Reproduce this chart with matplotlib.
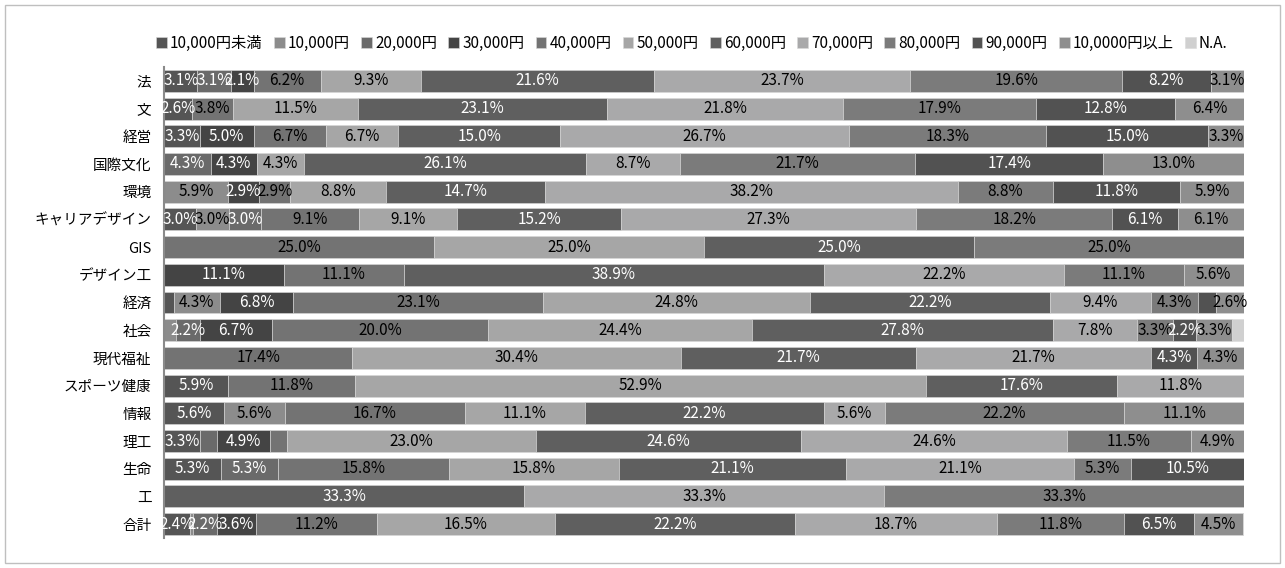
import matplotlib
matplotlib.use('Agg')
import matplotlib.pyplot as plt
import numpy as np

plt.rcParams['font.family'] = ['Noto Sans CJK JP', 'DejaVu Sans']

# 学部 (rows, top to bottom)
categories = ['法', '文', '経営', '国際文化', '環境', 'キャリアデザイン', 'GIS', 'デザイン工',
              '経済', '社会', '現代福祉', 'スポーツ健康', '情報', '理工', '生命', '工', '合計']

series_names = ['10,000円未満', '10,000円', '20,000円', '30,000円', '40,000円', '50,000円',
                '60,000円', '70,000円', '80,000円', '90,000円', '10,0000円以上', 'N.A.']

# percentages per series, one value per category (same order as categories)
under_10k = [3.1, 2.6, 3.3, 0, 0, 3.0, 0, 0, 0.9, 0, 0, 5.9, 5.6, 3.3, 5.3, 0, 2.4]
yen_10k = [0, 0, 0, 0, 5.9, 3.0, 0, 0, 4.3, 1.1, 0, 0, 5.6, 0, 0, 0, 0.3]
yen_20k = [3.1, 0, 0, 4.3, 0, 3.0, 0, 0, 0, 2.2, 0, 0, 0, 1.6, 5.3, 0, 2.2]
yen_30k = [2.1, 0, 5.0, 4.3, 2.9, 0, 0, 11.1, 6.8, 6.7, 0, 0, 0, 4.9, 0, 0, 3.6]
yen_40k = [6.2, 3.8, 6.7, 0, 2.9, 9.1, 25.0, 11.1, 23.1, 20.0, 17.4, 11.8, 16.7, 1.6, 15.8, 0, 11.2]
yen_50k = [9.3, 11.5, 6.7, 4.3, 8.8, 9.1, 25.0, 0, 24.8, 24.4, 30.4, 52.9, 11.1, 23.0, 15.8, 0, 16.5]
yen_60k = [21.6, 23.1, 15.0, 26.1, 14.7, 15.2, 25.0, 38.9, 22.2, 27.8, 21.7, 17.6, 22.2, 24.6, 21.1, 33.3, 22.2]
yen_70k = [23.7, 21.8, 26.7, 8.7, 38.2, 27.3, 0, 22.2, 9.4, 7.8, 21.7, 11.8, 5.6, 24.6, 21.1, 33.3, 18.7]
yen_80k = [19.6, 17.9, 18.3, 21.7, 8.8, 18.2, 25.0, 11.1, 4.3, 3.3, 0, 0, 22.2, 11.5, 5.3, 33.3, 11.8]
yen_90k = [8.2, 12.8, 15.0, 17.4, 11.8, 6.1, 0, 0, 1.7, 2.2, 4.3, 0, 0, 0, 10.5, 0, 6.5]
over_100k = [3.1, 6.4, 3.3, 13.0, 5.9, 6.1, 0, 5.6, 2.6, 3.3, 4.3, 0, 11.1, 4.9, 0, 0, 4.5]
no_answer = [0, 0, 0, 0, 0, 0, 0, 0, 0, 1.1, 0, 0, 0, 0, 0, 0, 0.1]

series = [under_10k, yen_10k, yen_20k, yen_30k, yen_40k, yen_50k,
          yen_60k, yen_70k, yen_80k, yen_90k, over_100k, no_answer]

colors = ['#555555', '#8c8c8c', '#6a6a6a', '#444444', '#737373', '#a6a6a6',
          '#5f5f5f', '#a9a9aa', '#7b7b7b', '#525252', '#8e8e8e', '#d0d0d0']
text_colors = ['white', 'black', 'white', 'white', 'black', 'black',
               'white', 'black', 'black', 'white', 'black', 'black']

values = np.array(series, dtype=float)          # (12, 17)
shares = values / values.sum(axis=0) * 100      # 100% stacked

fig = plt.figure(figsize=(12.85, 5.68), dpi=100)
ax = fig.add_axes([164 / 1285, 1 - 538 / 568, 1080 / 1285, 471 / 568])

y = np.arange(len(categories))
left = np.zeros(len(categories))
for i, name in enumerate(series_names):
    ax.barh(y, shares[i], left=left, height=0.79, color=colors[i],
            edgecolor='#d9d9d9', linewidth=0.4, label=name)
    for j in range(len(categories)):
        v = values[i, j]
        if v >= 2.0:
            ax.text(left[j] + shares[i, j] / 2, y[j], f'{v:.1f}%',
                    ha='center', va='center', fontsize=11,
                    color=text_colors[i])
    left += shares[i]

ax.set_xlim(0, 100)
ax.set_ylim(len(categories) - 0.5, -0.5)
ax.set_yticks(y)
ax.set_yticklabels(categories, fontsize=10.5)
ax.tick_params(axis='y', length=0, pad=9)
ax.set_xticks([])
for s in ['top', 'right', 'bottom']:
    ax.spines[s].set_visible(False)
ax.spines['left'].set_color('#8a8a8a')
ax.spines['left'].set_linewidth(1.5)

fig.legend(loc='center', bbox_to_anchor=(692 / 1285, 1 - 43 / 568), ncol=12,
           frameon=False, fontsize=11, handlelength=0.7, handleheight=0.7,
           handletextpad=0.2, columnspacing=0.75)

# outer chart border
fig.add_artist(plt.Rectangle((5 / 1285, 5 / 568), 1275 / 1285, 558 / 568,
                             transform=fig.transFigure, fill=False,
                             edgecolor='#bfbfbf', linewidth=1))

fig.savefig('out.png', dpi=100)
